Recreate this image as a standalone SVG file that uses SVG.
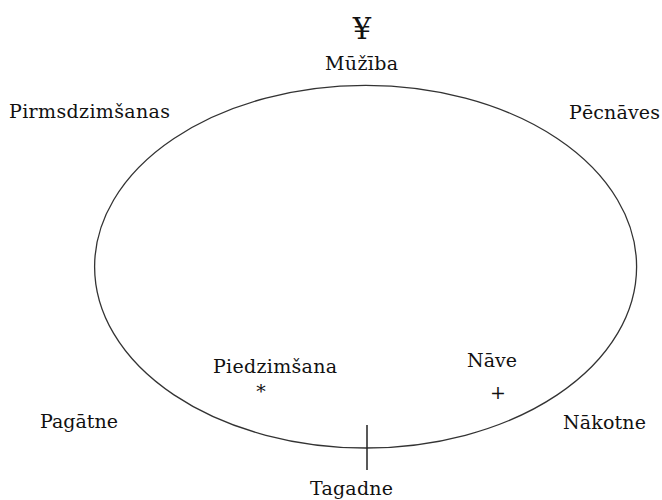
<svg xmlns="http://www.w3.org/2000/svg" width="662" height="500" viewBox="0 0 662 500">
<style>
.t{font-family:"DejaVu Serif","Liberation Serif",serif;font-size:19px;fill:#111;text-anchor:middle}
.c{fill:none;stroke:#333;stroke-width:1.3}
</style>
<rect width="662" height="500" fill="#fff"/>
<g id="cycle">
<ellipse class="c" cx="365.6" cy="266.7" rx="271" ry="181.3"/>
</g>
<g id="connectors">
<line x1="367" y1="425" x2="367" y2="470" stroke="#222" stroke-width="1.5"/>
</g>
<g id="muziba">
<text class="t" x="362" y="39" style="font-size:29px">¥</text>
<text class="t" x="361.5" y="70" textLength="73">Mūžība</text>
</g>
<g id="pirmsdzimsanas"><text class="t" x="89.5" y="118" textLength="161">Pirmsdzimšanas</text></g>
<g id="pecnaves"><text class="t" x="614.5" y="119" textLength="91">Pēcnāves</text></g>
<g id="pagatne"><text class="t" x="79" y="428" textLength="78">Pagātne</text></g>
<g id="nakotne"><text class="t" x="604.5" y="429" textLength="83">Nākotne</text></g>
<g id="piedzimsana">
<text class="t" x="275" y="373" textLength="124">Piedzimšana</text>
<text class="t" x="261" y="398">*</text>
</g>
<g id="nave">
<text class="t" x="492" y="367" textLength="50">Nāve</text>
<text class="t" x="498" y="398.5">+</text>
</g>
<g id="tagadne"><text class="t" x="351.5" y="495" textLength="83">Tagadne</text></g>
</svg>
